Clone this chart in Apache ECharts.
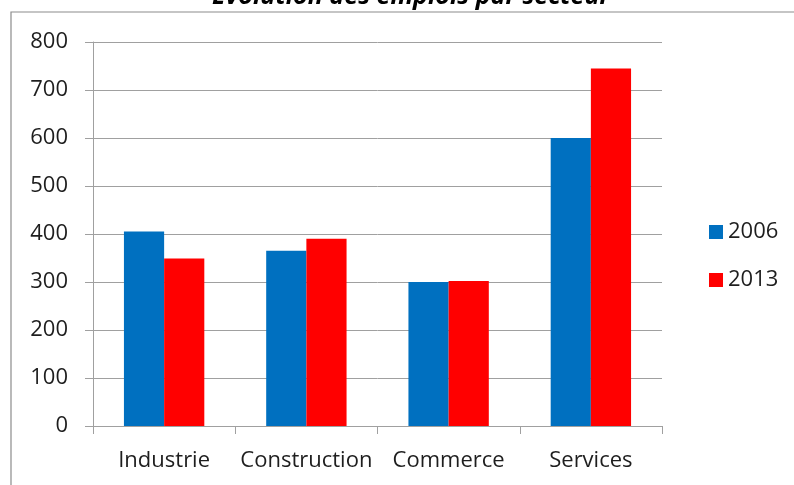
<!DOCTYPE html>
<html><head><meta charset="utf-8">
<script src="https://cdn.jsdelivr.net/npm/echarts@6/dist/echarts.min.js"></script>
<style>html,body{margin:0;padding:0;background:#fff}#c{width:794px;height:485px}</style>
</head><body><div id="c"></div>
<script>
const titleText = 'Évolution des emplois par secteur';
const categories = ['Industrie', 'Construction', 'Commerce', 'Services'];
const seriesNames = ['2006', '2013'];
const values2006 = [405, 365, 300, 600];
const values2013 = [349, 390, 302, 745];
const yTicks = { min: 0, max: 800, interval: 100 };

const chart = echarts.init(document.getElementById('c'), null, {renderer: 'canvas'});
const FONT = '"Open Sans", "DejaVu Sans", sans-serif';
chart.setOption({
  animation: false,
  backgroundColor: '#fff',
  title: {
    text: titleText, left: 406, top: -21, textAlign: 'center',
    textStyle: {fontFamily: FONT, fontSize: 25, fontWeight: 'bold', fontStyle: 'italic', color: '#000'}
  },
  graphic: [{
    type: 'rect', silent: true, z: -1,
    shape: {x: 11, y: 12, width: 900, height: 600},
    style: {fill: null, stroke: '#8c8c8c', lineWidth: 1.2}
  }],
  legend: {
    orient: 'vertical', left: 704, top: 216,
    icon: 'rect', itemWidth: 14, itemHeight: 14, itemGap: 26,
    textStyle: {fontFamily: FONT, fontSize: 22, color: '#1e1e1e', lineHeight: 22},
    data: seriesNames
  },
  grid: {left: 93, right: 132, top: 42, bottom: 59, containLabel: false},
  xAxis: {
    type: 'category', data: categories,
    axisLine: {lineStyle: {color: '#a0a0a0', width: 1}},
    axisTick: {show: true, length: 8, interval: 0, alignWithLabel: false, lineStyle: {color: '#a0a0a0'}},
    axisLabel: {fontFamily: FONT, fontSize: 22, color: '#1e1e1e', margin: 24, interval: 0}
  },
  yAxis: {
    type: 'value', min: yTicks.min, max: yTicks.max, interval: yTicks.interval,
    axisLine: {show: true, lineStyle: {color: '#a0a0a0', width: 1}},
    axisTick: {show: true, length: 8, lineStyle: {color: '#a0a0a0'}},
    splitLine: {lineStyle: {color: '#a0a0a0', width: 1}},
    axisLabel: {fontFamily: FONT, fontSize: 22, color: '#1e1e1e', margin: 25}
  },
  series: [
    {name: seriesNames[0], type: 'bar', data: values2006, barGap: '0%', barCategoryGap: '43.5%',
     itemStyle: {color: '#0070C0'}},
    {name: seriesNames[1], type: 'bar', data: values2013, barGap: '0%', barCategoryGap: '43.5%',
     itemStyle: {color: '#FF0000'}}
  ]
});
</script></body></html>
